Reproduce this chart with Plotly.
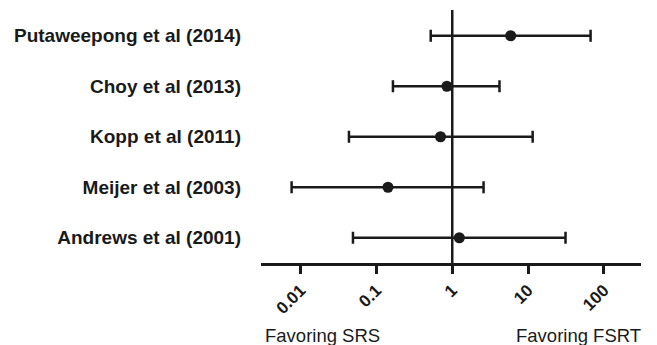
import plotly.graph_objects as go
import math

studies = ["Putaweepong et al (2014)", "Choy et al (2013)", "Kopp et al (2011)",
           "Meijer et al (2003)", "Andrews et al (2001)"]
estimate = [5.9, 0.85, 0.70, 0.142, 1.24]
lower = [0.52, 0.165, 0.0434, 0.0076, 0.049]
upper = [66.8, 4.2, 11.5, 2.59, 31.2]
tick_vals = [0.01, 0.1, 1, 10, 100]
tick_text = ["0.01", "0.1", "1", "10", "100"]

ink = "#1a1a1a"
font_fam = "Arial, Liberation Sans, sans-serif"

fig = go.Figure()
fig.add_trace(go.Scatter(
    x=estimate, y=studies, mode="markers",
    marker=dict(size=11, color=ink),
    error_x=dict(type="data", symmetric=False,
                 array=[u - e for u, e in zip(upper, estimate)],
                 arrayminus=[e - l for e, l in zip(estimate, lower)],
                 color=ink, thickness=2.5, width=6),
    showlegend=False, cliponaxis=False,
))

fig.add_shape(type="line", xref="x", yref="paper", x0=1, x1=1, y0=0, y1=1,
              line=dict(color=ink, width=2.5), layer="below")

fig.update_layout(
    width=649, height=337,
    margin=dict(l=253, r=16, t=2, b=82, autoexpand=False),
    plot_bgcolor="white", paper_bgcolor="white",
    font=dict(family=font_fam, color=ink),
    xaxis=dict(type="log", range=[math.log10(0.003), math.log10(309)],
               tickvals=tick_vals, ticktext=tick_text, tickangle=-45,
               ticks="outside", ticklen=8, tickwidth=2.5, tickcolor=ink,
               showline=True, linewidth=2.5, linecolor=ink,
               showgrid=False, zeroline=False, automargin=False,
               tickfont=dict(size=17, weight="bold", color=ink, family=font_fam)),
    yaxis=dict(type="category", categoryorder="array",
               categoryarray=list(reversed(studies)),
               range=[-0.5, 4.51], showgrid=False, zeroline=False,
               showline=False, ticks="", ticklabelstandoff=19, automargin=False,
               tickfont=dict(size=19, weight="bold", color=ink, family=font_fam)),
    annotations=[
        dict(text="Favoring SRS", xref="paper", yref="paper", x=(263 - 261) / 380,
             y=(263 - 335) / 253, xanchor="left", yanchor="middle", showarrow=False,
             font=dict(size=18.5, color=ink, family=font_fam)),
        dict(text="Favoring FSRT", xref="paper", yref="paper", x=(643 - 261) / 380,
             y=(263 - 335) / 253, xanchor="right", yanchor="middle", showarrow=False,
             font=dict(size=18.5, color=ink, family=font_fam)),
    ],
)

fig.write_html("out.html")
